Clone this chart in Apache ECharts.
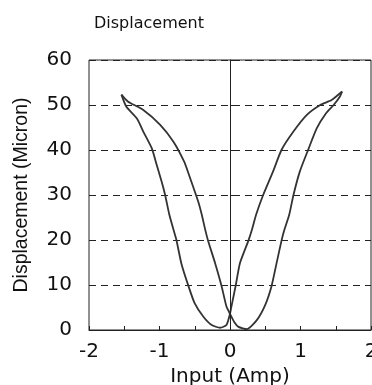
<!DOCTYPE html>
<html>
<head>
<meta charset="utf-8">
<script src="https://cdn.jsdelivr.net/npm/echarts@6/dist/echarts.min.js"></script>
<style>
html,body{margin:0;padding:0;background:#fff;}
#chart{width:372px;height:385px;}
</style>
</head>
<body>
<div id="chart"></div>
<script>
// Increasing-current path: left-wing inner branch -> right minimum -> right-wing outer branch
const incX = [-1.54, -1.45, -1.23, -0.99, -0.80, -0.65, -0.58, -0.45, -0.40, -0.35, -0.31, -0.21, -0.12, -0.05, 0.00, 0.06, 0.12, 0.24, 0.38, 0.50, 0.59, 0.66, 0.73, 0.77, 0.84, 0.90, 0.99, 1.11, 1.23, 1.36, 1.47, 1.56, 1.59];
const incY = [52.3, 50.8, 48.9, 45.6, 41.8, 37.4, 34.4, 28.5, 25.6, 22.2, 19.8, 14.8, 9.8, 5.2, 3.6, 1.8, 0.7, 0.2, 2.2, 5.6, 9.8, 14.8, 19.8, 22.2, 25.6, 30.0, 35.2, 40.1, 44.8, 48.1, 50.0, 51.9, 53.0];
// Decreasing-current path: right-wing inner branch -> left minimum -> left-wing outer branch
const decX = [1.59, 1.44, 1.28, 1.09, 0.90, 0.73, 0.61, 0.47, 0.37, 0.31, 0.26, 0.14, 0.08, 0.02, 0.00, -0.05, -0.14, -0.26, -0.38, -0.50, -0.59, -0.69, -0.76, -0.80, -0.86, -0.92, -0.97, -1.04, -1.11, -1.23, -1.32, -1.47, -1.54];
const decY = [53.0, 51.1, 50.0, 47.8, 44.1, 40.0, 35.2, 30.0, 25.6, 22.2, 19.8, 14.8, 9.8, 5.2, 3.6, 1.1, 0.5, 1.1, 3.0, 5.9, 9.8, 14.8, 20.0, 22.2, 25.6, 30.0, 33.0, 36.7, 40.4, 44.1, 47.0, 49.6, 52.3];

const titleText = 'Displacement';
const xName = 'Input (Amp)';
const yName = 'Displacement (Micron)';

const zip = (xs, ys) => xs.map((x, i) => [x, ys[i]]);
const WIDE = 'DejaVu Sans, Verdana, sans-serif';
const NARROW = 'Liberation Sans, Arial, sans-serif';
const INK = '#111';

const chart = echarts.init(document.getElementById('chart'), null, {renderer: 'canvas'});
chart.setOption({
  animation: false,
  backgroundColor: '#fff',
  title: {
    text: titleText, left: 89, top: 11,
    textStyle: {fontFamily: WIDE, fontSize: 16, fontWeight: 'normal', color: INK}
  },
  grid: {left: 89, right: 1, top: 60, bottom: 55, outerBoundsMode: 'none', containLabel: false,
         show: true, borderColor: '#222', borderWidth: 1, backgroundColor: 'transparent'},
  xAxis: {
    type: 'value', min: -2, max: 2, interval: 1,
    name: xName, nameLocation: 'middle', nameGap: 32,
    nameTextStyle: {fontFamily: WIDE, fontSize: 20, color: INK},
    axisLine: {show: true, onZero: false, lineStyle: {color: '#222', width: 1}},
    axisTick: {show: true, inside: true, length: 4, lineStyle: {color: '#222'}},
    minorTick: {show: true, splitNumber: 2, length: 4, lineStyle: {color: '#222'}},
    splitLine: {show: false},
    axisLabel: {fontFamily: WIDE, fontSize: 20, color: INK, margin: 12, hideOverlap: false}
  },
  yAxis: {
    type: 'value', min: 0, max: 60, interval: 10,
    name: yName, nameLocation: 'middle', nameGap: 57, nameRotate: 90,
    nameTextStyle: {fontFamily: NARROW, fontSize: 19.5, color: INK},
    axisLine: {show: true, lineStyle: {color: '#222', width: 1}},
    axisTick: {show: true, inside: true, length: 4, lineStyle: {color: '#222'}},
    splitLine: {show: true, lineStyle: {color: '#222', width: 1, type: [7, 5]}},
    axisLabel: {fontFamily: WIDE, fontSize: 20, color: INK, margin: 17}
  },
  series: [
    {
      type: 'line', data: zip(incX, incY), symbol: 'none', smooth: 0.2,
      lineStyle: {color: '#333', width: 1.8},
      markLine: {
        silent: true, symbol: 'none', label: {show: false},
        lineStyle: {color: '#222', width: 1, type: 'solid'},
        data: [{xAxis: 0}]
      }
    },
    {
      type: 'line', data: zip(decX, decY), symbol: 'none', smooth: 0.2,
      lineStyle: {color: '#333', width: 1.8}
    }
  ]
});
</script>
</body>
</html>
